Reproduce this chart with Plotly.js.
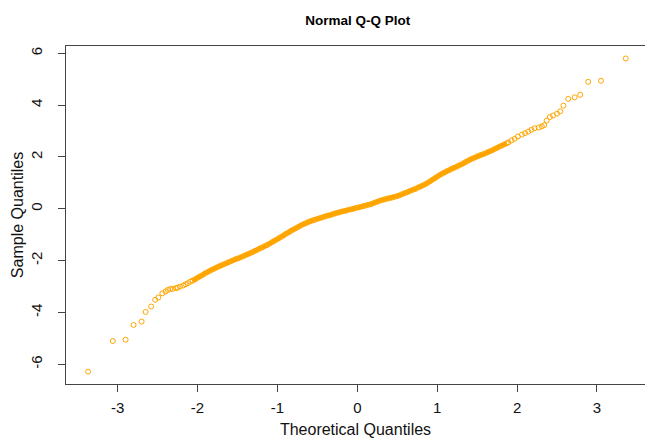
<!DOCTYPE html>
<html>
<head>
<meta charset="utf-8">
<script src="https://cdn.plot.ly/plotly-3.0.1.min.js"></script>
<style>html,body{margin:0;padding:0;background:#fff;}#chart{width:645px;height:438px;}</style>
</head>
<body>
<div id="chart"></div>
<script>
// Lower tail (theoretical, sample)
const lowX = [-3.37, -3.06, -2.90, -2.80, -2.70, -2.65, -2.58, -2.53, -2.49, -2.44, -2.40, -2.37, -2.34, -2.31, -2.27, -2.25, -2.22, -2.18, -2.15, -2.12, -2.09];
const lowY = [-6.28, -5.10, -5.05, -4.48, -4.35, -3.98, -3.77, -3.51, -3.42, -3.26, -3.19, -3.13, -3.09, -3.09, -3.06, -3.04, -3.00, -2.96, -2.91, -2.87, -2.81];

// Dense central band
const bandX = [-2.06,-2.03,-2.00,-1.97,-1.94,-1.91,-1.88,-1.85,-1.82,-1.79,-1.76,-1.73,-1.70,-1.67,-1.64,-1.61,-1.58,-1.55,-1.52,-1.49,-1.46,-1.43,-1.40,-1.37,-1.34,-1.31,-1.28,-1.25,-1.22,-1.19,-1.16,-1.13,-1.10,-1.07,-1.04,-1.01,-0.98,-0.95,-0.92,-0.89,-0.86,-0.83,-0.80,-0.77,-0.74,-0.71,-0.68,-0.65,-0.62,-0.59,-0.56,-0.53,-0.50,-0.47,-0.44,-0.41,-0.38,-0.35,-0.32,-0.29,-0.26,-0.23,-0.20,-0.17,-0.14,-0.11,-0.08,-0.05,-0.02,0.01,0.04,0.07,0.10,0.13,0.16,0.19,0.22,0.25,0.28,0.31,0.34,0.37,0.40,0.43,0.46,0.49,0.52,0.55,0.58,0.61,0.64,0.67,0.70,0.73,0.76,0.79,0.82,0.85,0.88,0.91,0.94,0.97,1.00,1.03,1.06,1.09,1.12,1.15,1.18,1.21,1.24,1.27,1.30,1.33,1.36,1.39,1.42,1.45,1.48,1.51,1.54,1.57,1.60,1.63,1.66,1.69,1.72,1.75,1.78,1.81,1.84,1.87];
const bandY = [-2.77,-2.72,-2.66,-2.61,-2.56,-2.50,-2.45,-2.40,-2.35,-2.31,-2.26,-2.22,-2.18,-2.14,-2.10,-2.06,-2.02,-1.98,-1.94,-1.91,-1.87,-1.83,-1.79,-1.75,-1.71,-1.67,-1.62,-1.58,-1.53,-1.49,-1.44,-1.40,-1.35,-1.29,-1.24,-1.19,-1.13,-1.08,-1.02,-0.96,-0.91,-0.85,-0.80,-0.75,-0.70,-0.65,-0.60,-0.56,-0.52,-0.48,-0.45,-0.42,-0.39,-0.36,-0.33,-0.30,-0.27,-0.25,-0.22,-0.19,-0.16,-0.14,-0.11,-0.09,-0.07,-0.04,-0.02,0.00,0.03,0.05,0.07,0.10,0.12,0.15,0.17,0.20,0.24,0.27,0.31,0.34,0.36,0.39,0.41,0.43,0.46,0.48,0.51,0.55,0.59,0.62,0.66,0.70,0.74,0.77,0.82,0.86,0.90,0.95,1.00,1.06,1.12,1.18,1.24,1.30,1.35,1.40,1.45,1.49,1.54,1.58,1.62,1.67,1.71,1.76,1.81,1.86,1.91,1.95,1.99,2.03,2.07,2.10,2.14,2.18,2.22,2.26,2.31,2.35,2.40,2.44,2.49,2.53];

// Upper tail
const highX = [1.89, 1.93, 1.97, 2.01, 2.06, 2.10, 2.14, 2.18, 2.22, 2.27, 2.31, 2.34, 2.37, 2.41, 2.45, 2.50, 2.54, 2.58, 2.64, 2.72, 2.79, 2.89, 3.05, 3.36];
const highY = [2.56, 2.64, 2.70, 2.79, 2.86, 2.92, 2.98, 3.05, 3.11, 3.14, 3.18, 3.23, 3.40, 3.54, 3.60, 3.67, 3.76, 3.98, 4.24, 4.30, 4.40, 4.90, 4.94, 5.80];

const xTicks = [-3, -2, -1, 0, 1, 2, 3];
const yTicks = [-6, -4, -2, 0, 2, 4, 6];

const ORANGE = '#FFA500';
const allX = lowX.concat(bandX, highX);
const allY = lowY.concat(bandY, highY);

const traces = [
  {
    x: bandX, y: bandY, type: 'scatter', mode: 'lines',
    line: {color: ORANGE, width: 4, shape: 'spline'},
    hoverinfo: 'skip', showlegend: false
  },
  {
    x: allX, y: allY, type: 'scatter', mode: 'markers',
    marker: {symbol: 'circle-open', size: 5, color: ORANGE, line: {width: 1, color: ORANGE}},
    showlegend: false
  }
];

const axisFont = {family: 'Liberation Sans, Arial, sans-serif', size: 15, color: '#111'};

const layout = {
  width: 645, height: 438,
  margin: {l: 66, r: 0, t: 46, b: 54, pad: 0},
  paper_bgcolor: '#fff', plot_bgcolor: '#fff',
  showlegend: false,
  title: {
    text: 'Normal Q-Q Plot',
    font: {family: 'Liberation Sans, Arial, sans-serif', size: 13.5, color: '#000', weight: 'bold'},
    x: 0.5545, xref: 'container', xanchor: 'center',
    y: 1 - 20/438, yref: 'container', yanchor: 'middle'
  },
  xaxis: {
    range: [-3.646, 3.601], autorange: false,
    tickmode: 'array', tickvals: xTicks, ticktext: xTicks.map(String),
    ticks: 'outside', ticklen: 7, tickwidth: 1, tickcolor: '#444',
    showline: true, linecolor: '#444', linewidth: 1, mirror: true,
    showgrid: false, zeroline: false,
    tickfont: axisFont, ticklabelstandoff: 3,
    title: {text: 'Theoretical Quantiles', font: {family: 'Liberation Sans, Arial, sans-serif', size: 16, color: '#111'}, standoff: 8}
  },
  yaxis: {
    range: [-6.759, 6.281], autorange: false,
    tickmode: 'array', tickvals: yTicks, ticktext: yTicks.map(String),
    ticks: 'outside', ticklen: 7, tickwidth: 1, tickcolor: '#444',
    showline: true, linecolor: '#444', linewidth: 1, mirror: false,
    showgrid: false, zeroline: false,
    tickangle: -90,
    tickfont: axisFont, ticklabelstandoff: 10,
    title: {text: 'Sample Quantiles', font: {family: 'Liberation Sans, Arial, sans-serif', size: 16, color: '#111'}, standoff: 0}
  }
};

Plotly.newPlot('chart', traces, layout, {displayModeBar: false, staticPlot: true});
</script>
</body>
</html>
